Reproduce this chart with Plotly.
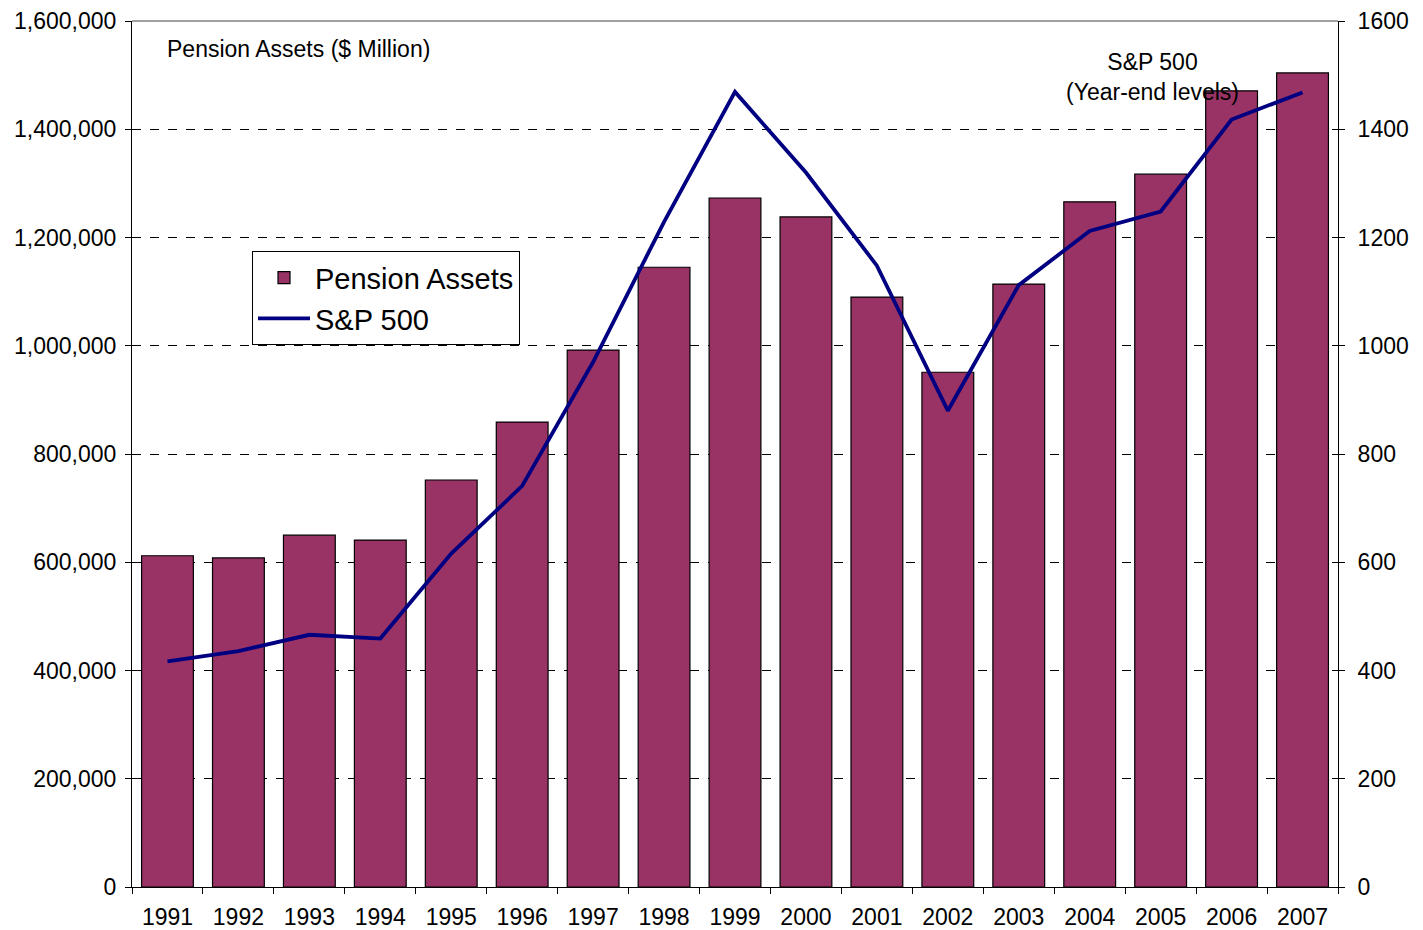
import plotly.graph_objects as go

years = [str(y) for y in range(1991, 2008)]
pension_assets = [612000, 608000, 650000, 641000, 752000, 859000, 992000, 1145000,
                  1273000, 1238000, 1090000, 951000, 1114000, 1266000, 1317000,
                  1471000, 1504000]
sp500 = [417, 436, 466, 459, 616, 741, 970, 1229, 1469, 1320, 1148, 880, 1112,
         1212, 1248, 1418, 1468]
left_ticks = [0, 200000, 400000, 600000, 800000, 1000000, 1200000, 1400000, 1600000]
right_ticks = [0, 200, 400, 600, 800, 1000, 1200, 1400, 1600]

FONT = "Liberation Sans, Arial, sans-serif"
TICK = 23

fig = go.Figure()
fig.add_trace(go.Bar(
    x=years, y=pension_assets, name="Pension Assets",
    marker=dict(color="#993366", line=dict(color="black", width=1.2)),
))
fig.add_trace(go.Scatter(
    x=years, y=sp500, name="S&P 500", yaxis="y2", mode="lines",
    line=dict(color="#000080", width=3.8),
))
# transparent copy on a helper axis that only draws inside tick marks
fig.add_trace(go.Scatter(
    x=years, y=sp500, yaxis="y3", mode="lines", showlegend=False,
    hoverinfo="skip", line=dict(color="rgba(0,0,0,0)", width=0),
))

fig.update_layout(
    width=1415, height=922,
    margin=dict(l=124, r=85, t=13, b=43),
    paper_bgcolor="white", plot_bgcolor="white",
    font=dict(family=FONT, size=TICK, color="black"),
    bargap=0.27,
    showlegend=True,
    legend=dict(
        x=0.0995, y=0.734, xanchor="left", yanchor="top",
        bgcolor="white", bordercolor="black", borderwidth=1,
        font=dict(size=29, family=FONT),
        traceorder="normal", tracegroupgap=0, itemwidth=52,
    ),
    xaxis=dict(
        type="category", showgrid=False, showline=True, linecolor="black",
        linewidth=1, ticks="outside", tickson="boundaries", ticklen=6,
        tickcolor="black", tickfont=dict(size=TICK), automargin=False,
        ticklabelstandoff=9,
    ),
    yaxis=dict(
        range=[0, 1600000], tickvals=left_ticks, tickformat=",d",
        showgrid=True, gridcolor="black", griddash="dash", gridwidth=1,
        showline=True, linecolor="black", linewidth=1,
        ticks="outside", ticklen=6, tickcolor="black",
        tickfont=dict(size=TICK), zeroline=False, automargin=False,
        ticklabelstandoff=4,
    ),
    yaxis2=dict(
        range=[0, 1600], tickvals=right_ticks, tickformat="d",
        overlaying="y", side="right", showgrid=False,
        showline=True, linecolor="black", linewidth=1,
        ticks="outside", ticklen=6, tickcolor="black",
        tickfont=dict(size=TICK), zeroline=False, automargin=False,
        ticklabelstandoff=8,
    ),
    yaxis3=dict(
        range=[0, 1600], tickvals=right_ticks, showticklabels=False,
        overlaying="y", side="right", showgrid=False, showline=False,
        ticks="inside", ticklen=6, tickcolor="black", zeroline=False,
        automargin=False,
    ),
    annotations=[
        dict(text="Pension Assets ($ Million)", xref="paper", yref="paper",
             x=0.027, y=0.968, xanchor="left", yanchor="middle",
             showarrow=False, font=dict(size=TICK)),
        dict(text="S&P 500<br>(Year-end levels)", xref="paper", yref="paper",
             x=0.846, y=0.935, xanchor="center", yanchor="middle",
             showarrow=False, font=dict(size=TICK)),
    ],
    shapes=[
        dict(type="line", xref="paper", yref="paper", x0=0, x1=1, y0=1, y1=1,
             line=dict(color="#808080", width=1.5)),
    ],
)

fig.write_html("out.html")
